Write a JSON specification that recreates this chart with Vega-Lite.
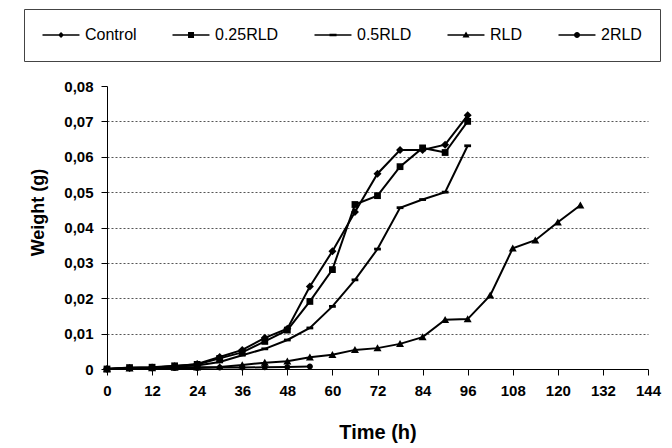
{
  "$schema": "https://vega.github.io/schema/vega-lite/v6.json",
  "width": 541,
  "height": 283,
  "autosize": {"type": "none"},
  "padding": {"left": 107, "top": 86, "right": 24, "bottom": 79},
  "background": "white",
  "config": {
    "view": {"stroke": null},
    "font": "Liberation Sans"
  },
  "data": {
    "values": [
      {"series": "Control", "time": 0, "weight": 0},
      {"series": "Control", "time": 6, "weight": 0.0003},
      {"series": "Control", "time": 12, "weight": 0.0004},
      {"series": "Control", "time": 18, "weight": 0.0008},
      {"series": "Control", "time": 24, "weight": 0.0014},
      {"series": "Control", "time": 30, "weight": 0.0034},
      {"series": "Control", "time": 36, "weight": 0.0054},
      {"series": "Control", "time": 42, "weight": 0.0088},
      {"series": "Control", "time": 48, "weight": 0.0114},
      {"series": "Control", "time": 54, "weight": 0.0233},
      {"series": "Control", "time": 60, "weight": 0.0333},
      {"series": "Control", "time": 66, "weight": 0.0444},
      {"series": "Control", "time": 72, "weight": 0.0552},
      {"series": "Control", "time": 78, "weight": 0.0619},
      {"series": "Control", "time": 84, "weight": 0.0619},
      {"series": "Control", "time": 90, "weight": 0.0634},
      {"series": "Control", "time": 96, "weight": 0.0717},
      {"series": "0.25RLD", "time": 0, "weight": 0},
      {"series": "0.25RLD", "time": 6, "weight": 0.0004},
      {"series": "0.25RLD", "time": 12, "weight": 0.0005},
      {"series": "0.25RLD", "time": 18, "weight": 0.0009},
      {"series": "0.25RLD", "time": 24, "weight": 0.0013},
      {"series": "0.25RLD", "time": 30, "weight": 0.003},
      {"series": "0.25RLD", "time": 36, "weight": 0.0047},
      {"series": "0.25RLD", "time": 42, "weight": 0.0078},
      {"series": "0.25RLD", "time": 48, "weight": 0.011},
      {"series": "0.25RLD", "time": 54, "weight": 0.0191},
      {"series": "0.25RLD", "time": 60, "weight": 0.0281},
      {"series": "0.25RLD", "time": 66, "weight": 0.0465},
      {"series": "0.25RLD", "time": 72, "weight": 0.049},
      {"series": "0.25RLD", "time": 78, "weight": 0.0572},
      {"series": "0.25RLD", "time": 84, "weight": 0.0625},
      {"series": "0.25RLD", "time": 90, "weight": 0.0612},
      {"series": "0.25RLD", "time": 96, "weight": 0.07},
      {"series": "0.5RLD", "time": 0, "weight": 0},
      {"series": "0.5RLD", "time": 6, "weight": 0.0003},
      {"series": "0.5RLD", "time": 12, "weight": 0.0004},
      {"series": "0.5RLD", "time": 18, "weight": 0.0007},
      {"series": "0.5RLD", "time": 24, "weight": 0.001},
      {"series": "0.5RLD", "time": 30, "weight": 0.002},
      {"series": "0.5RLD", "time": 36, "weight": 0.0039},
      {"series": "0.5RLD", "time": 42, "weight": 0.0057},
      {"series": "0.5RLD", "time": 48, "weight": 0.0082},
      {"series": "0.5RLD", "time": 54, "weight": 0.0116},
      {"series": "0.5RLD", "time": 60, "weight": 0.0177},
      {"series": "0.5RLD", "time": 66, "weight": 0.0252},
      {"series": "0.5RLD", "time": 72, "weight": 0.0339},
      {"series": "0.5RLD", "time": 78, "weight": 0.0456},
      {"series": "0.5RLD", "time": 84, "weight": 0.0479},
      {"series": "0.5RLD", "time": 90, "weight": 0.05},
      {"series": "0.5RLD", "time": 96, "weight": 0.0631},
      {"series": "RLD", "time": 0, "weight": 0},
      {"series": "RLD", "time": 6, "weight": 0.0002},
      {"series": "RLD", "time": 12, "weight": 0.0003},
      {"series": "RLD", "time": 18, "weight": 0.0004},
      {"series": "RLD", "time": 24, "weight": 0.0005},
      {"series": "RLD", "time": 30, "weight": 0.0006},
      {"series": "RLD", "time": 36, "weight": 0.0011},
      {"series": "RLD", "time": 42, "weight": 0.0018},
      {"series": "RLD", "time": 48, "weight": 0.0022},
      {"series": "RLD", "time": 54, "weight": 0.0033},
      {"series": "RLD", "time": 60, "weight": 0.004},
      {"series": "RLD", "time": 66, "weight": 0.0054},
      {"series": "RLD", "time": 72, "weight": 0.0059},
      {"series": "RLD", "time": 78, "weight": 0.0071},
      {"series": "RLD", "time": 84, "weight": 0.009},
      {"series": "RLD", "time": 90, "weight": 0.0139},
      {"series": "RLD", "time": 96, "weight": 0.0141},
      {"series": "RLD", "time": 102, "weight": 0.0208},
      {"series": "RLD", "time": 108, "weight": 0.0341},
      {"series": "RLD", "time": 114, "weight": 0.0364},
      {"series": "RLD", "time": 120, "weight": 0.0415},
      {"series": "RLD", "time": 126, "weight": 0.0463},
      {"series": "2RLD", "time": 0, "weight": 0},
      {"series": "2RLD", "time": 6, "weight": 0.0002},
      {"series": "2RLD", "time": 12, "weight": 0.0002},
      {"series": "2RLD", "time": 18, "weight": 0.0003},
      {"series": "2RLD", "time": 24, "weight": 0.0003},
      {"series": "2RLD", "time": 30, "weight": 0.0004},
      {"series": "2RLD", "time": 36, "weight": 0.0004},
      {"series": "2RLD", "time": 42, "weight": 0.0005},
      {"series": "2RLD", "time": 48, "weight": 0.0006},
      {"series": "2RLD", "time": 54, "weight": 0.0007}
    ]
  },
  "encoding": {
    "x": {
      "field": "time",
      "type": "quantitative",
      "scale": {"domain": [0, 144], "nice": false},
      "axis": {
        "title": "Time (h)",
        "values": [0, 12, 24, 36, 48, 60, 72, 84, 96, 108, 120, 132, 144],
        "grid": false,
        "domainColor": "black",
        "domainWidth": 1,
        "tickColor": "black",
        "tickSize": 6,
        "labelFont": "Liberation Sans",
        "labelFontSize": 15,
        "labelFontWeight": "bold",
        "labelColor": "black",
        "labelPadding": 8,
        "labelFlush": false,
        "titleFont": "Liberation Sans",
        "titleFontSize": 20,
        "titleFontWeight": "bold",
        "titleColor": "black",
        "titlePadding": 24
      }
    },
    "y": {
      "field": "weight",
      "type": "quantitative",
      "scale": {"domain": [0, 0.08], "nice": false},
      "axis": {
        "title": "Weight (g)",
        "titleY": 126,
        "values": [0, 0.01, 0.02, 0.03, 0.04, 0.05, 0.06, 0.07, 0.08],
        "labelExpr": "datum.value === 0 ? '0' : replace(format(datum.value, '.2f'), '.', ',')",
        "grid": true,
        "gridColor": "#555555",
        "gridDash": [2, 2],
        "gridWidth": 1,
        "gridOpacity": {"expr": "datum.value > 0.075 || datum.value < 0.005 ? 0 : 1"},
        "domainColor": "black",
        "domainWidth": 1,
        "tickColor": "black",
        "tickSize": 6,
        "labelFont": "Liberation Sans",
        "labelFontSize": 15,
        "labelFontWeight": "bold",
        "labelColor": "black",
        "labelPadding": 8,
        "labelFlush": false,
        "titleFont": "Liberation Sans",
        "titleFontSize": 18,
        "titleFontWeight": "bold",
        "titleColor": "black",
        "titlePadding": 16
      }
    }
  },
  "resolve": {"scale": {"shape": "independent"}, "legend": {"shape": "independent"}},
  "layer": [
    {
      "mark": {"type": "line", "color": "black", "strokeWidth": 2},
      "encoding": {
        "detail": {"field": "series", "type": "nominal"},
        "order": {"field": "time", "type": "quantitative"}
      }
    },
    {
      "mark": {"type": "point", "filled": true, "fill": "black", "opacity": 1, "size": 64, "strokeWidth": 0},
      "encoding": {
        "shape": {
          "field": "series",
          "type": "nominal",
          "scale": {
            "domain": ["Control", "0.25RLD", "0.5RLD", "RLD", "2RLD"],
            "range": [
              "M-1,0L0,-1L1,0L0,1Z",
              "M-0.85,-0.85H0.85V0.85H-0.85Z",
              "M-0.85,-0.35H0.85V0.35H-0.85Z",
              "M-1,0.8L0,-0.95L1,0.8Z",
              "M-0.75,0A0.75,0.75 0 1,1 0.75,0A0.75,0.75 0 1,1 -0.75,0Z"
            ]
          },
          "legend": null
        }
      }
    },
    {
      "mark": {"type": "point", "filled": true, "fill": "black", "opacity": 0, "size": 1, "strokeWidth": 0},
      "encoding": {
        "shape": {
          "field": "series",
          "type": "nominal",
          "scale": {
            "domain": ["Control", "0.25RLD", "0.5RLD", "RLD", "2RLD"],
            "range": [
              "M-1,-0.1H3.93V0.1H-1Z M1.07,0L1.47,-0.4L1.87,0L1.47,0.4Z",
              "M-1,-0.1H3.93V0.1H-1Z M1.07,-0.4H1.87V0.4H1.07Z",
              "M-1,-0.1H3.93V0.1H-1Z M1.0,-0.17H1.94V0.17H1.0Z",
              "M-1,-0.1H3.93V0.1H-1Z M1.0,0.33L1.47,-0.47L1.94,0.33Z",
              "M-1,-0.1H3.93V0.1H-1Z M1.07,0A0.4,0.4 0 1,1 1.87,0A0.4,0.4 0 1,1 1.07,0Z"
            ]
          },
          "legend": {
            "title": null,
            "orient": "none",
            "legendX": -83,
            "legendY": -77,
            "direction": "horizontal",
            "columns": 5,
            "columnPadding": 35,
            "padding": 18,
            "strokeColor": "#444444",
            "fillColor": "white",
            "symbolSize": 225,
            "symbolStrokeWidth": 0,
            "symbolFillColor": "black",
            "symbolOpacity": 1,
            "labelFont": "Liberation Sans",
            "labelFontSize": 16,
            "labelColor": "black",
            "labelOffset": 27,
            "encode": {
              "symbols": {
                "update": {
                  "size": {"value": 225},
                  "fill": {"value": "black"},
                  "opacity": {"value": 1},
                  "strokeWidth": {"value": 0}
                }
              }
            }
          }
        }
      }
    }
  ]
}
